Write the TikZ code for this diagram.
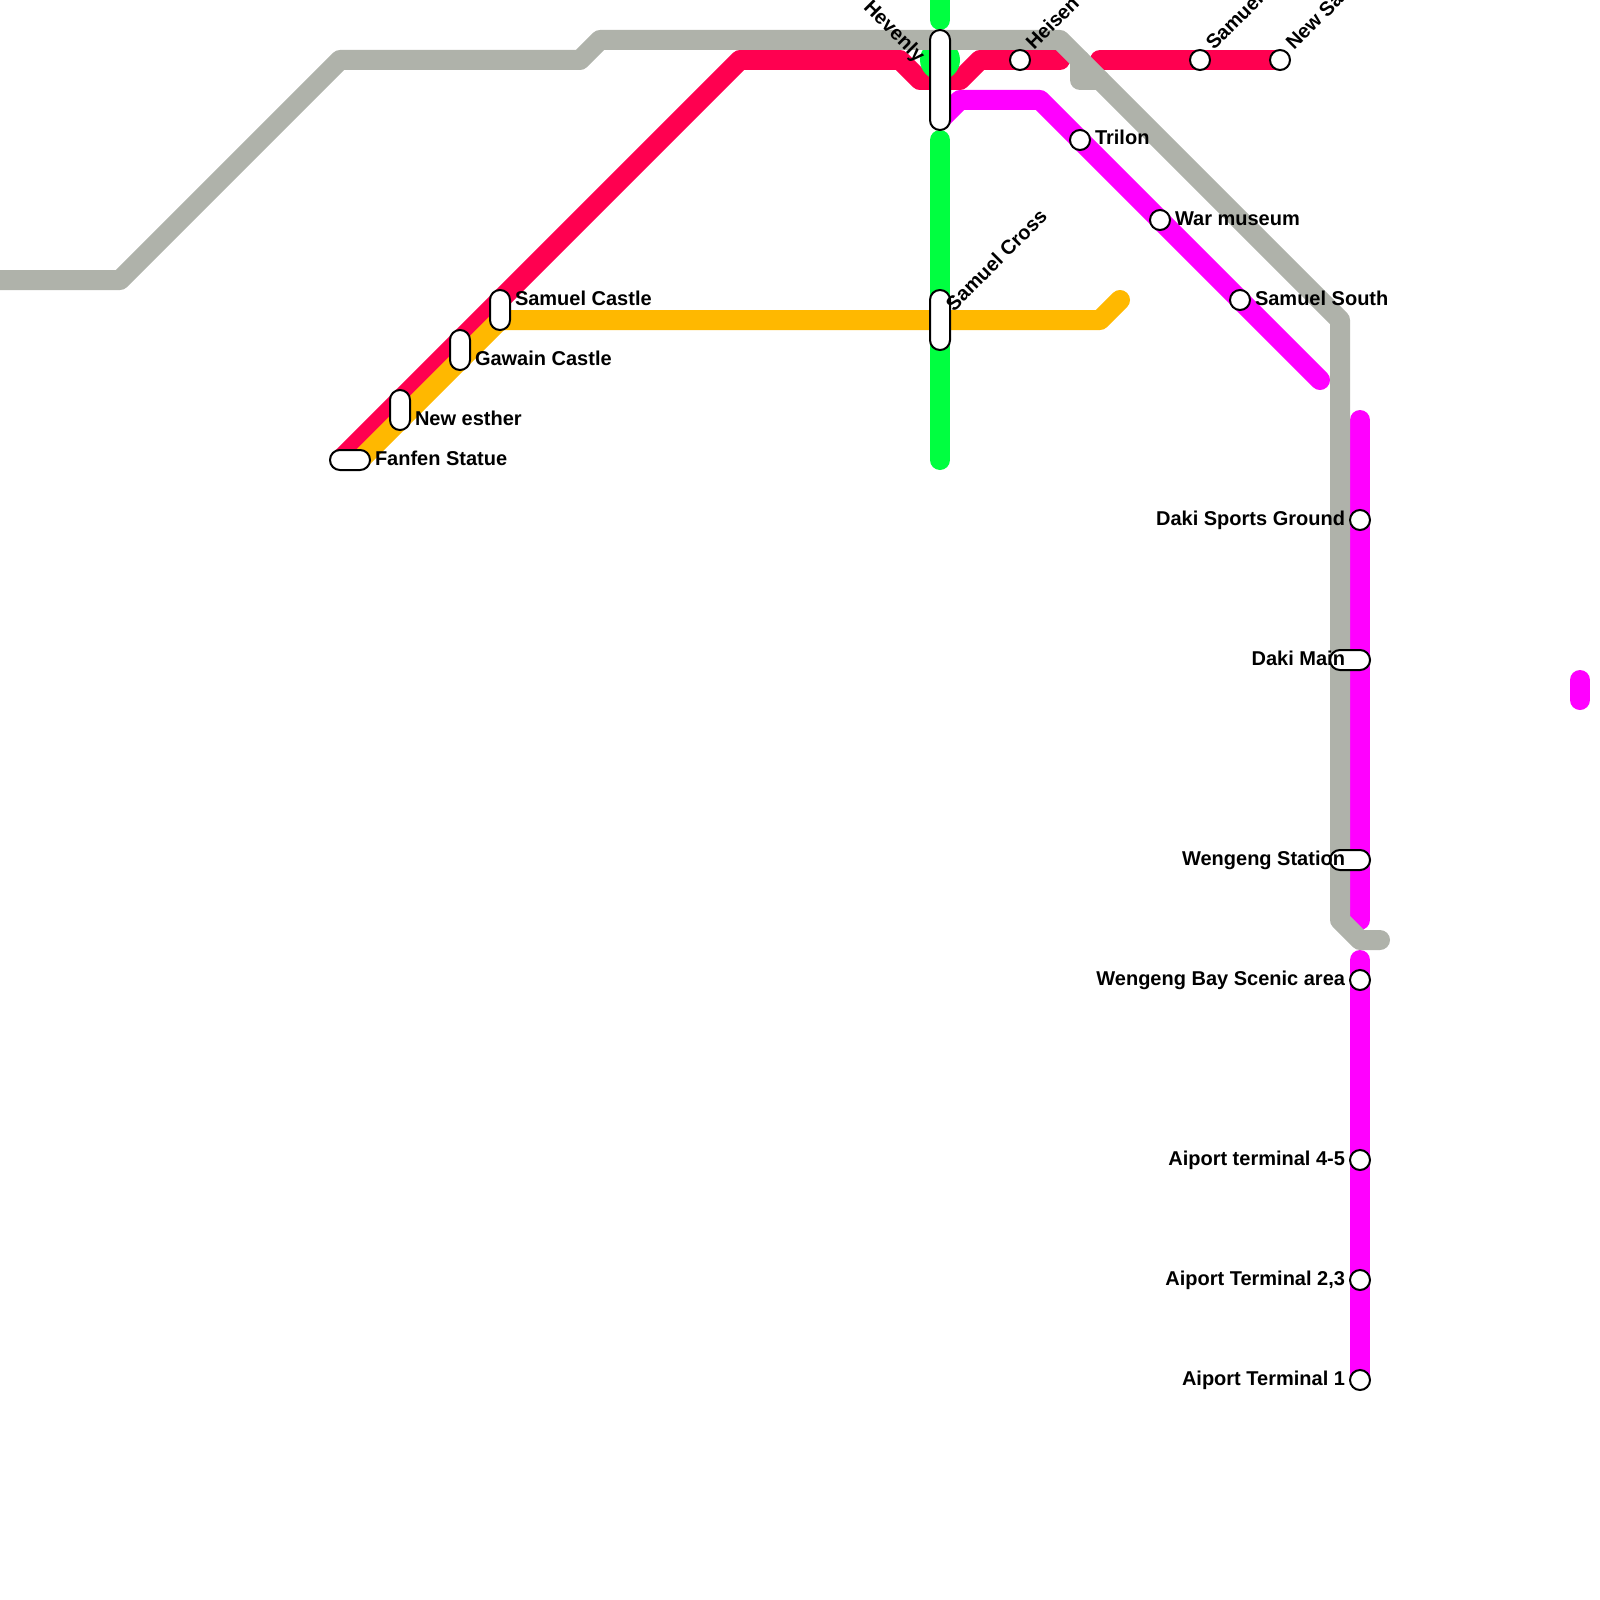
\documentclass[tikz,border=0pt]{standalone}
\usepackage{fontspec}
\setmainfont{Liberation Sans}
\usepackage{xcolor}
\usepackage{tikz}
\usetikzlibrary{positioning,backgrounds}

\definecolor{linegrey}{HTML}{AFB2AA}
\definecolor{linered}{HTML}{FF0050}
\definecolor{lineorange}{HTML}{FFB800}
\definecolor{linegreen}{HTML}{00FF40}
\definecolor{linemagenta}{HTML}{FF00FF}

\begin{document}
\begin{tikzpicture}[
    x=1pt, y=-1pt,
    metro/.style={line width=20pt, line cap=round, line join=round},
    stop/.style={circle, draw=black, fill=white, line width=2pt, minimum size=20pt, inner sep=0pt, outer sep=0pt},
    pill/.style={rectangle, draw=black, fill=white, line width=2pt, rounded corners=9.9pt, inner sep=0pt, outer sep=0pt},
    pillv/.style={pill, minimum width=20pt, minimum height=#1},
    pillh/.style={pill, minimum width=40pt, minimum height=20pt},
    lbl/.style={font=\fontsize{20}{24}\selectfont\bfseries, text=black, inner sep=0pt, outer sep=0pt},
    lblflat/.style={lbl, yshift=-5pt}
]

\useasboundingbox (0,0) rectangle (1600,1600);

\node [pillh] (fanfen) at (350,460) {};
\node [pillv=40pt] (esther) at (400,410) {};
\node [pillv=40pt] (gawain) at (460,350) {};
\node [pillv=40pt] (castle) at (500,310) {};
\node [pillv=100pt] (hevenly) at (940,80) {};
\node [pillv=60pt] (cross) at (940,320) {};
\node [stop] (heisen) at (1020,60) {};
\node [stop] (samuel) at (1200,60) {};
\node [stop] (newsa) at (1280,60) {};
\node [stop] (trilon) at (1080,140) {};
\node [stop] (museum) at (1160,220) {};
\node [stop] (south) at (1240,300) {};
\node [stop] (sports) at (1360,520) {};
\node [pillh] (dakimain) at (1350,660) {};
\node [pillh] (wengeng) at (1350,860) {};
\node [stop] (bay) at (1360,980) {};
\node [stop] (air45) at (1360,1160) {};
\node [stop] (air23) at (1360,1280) {};
\node [stop] (air1) at (1360,1380) {};

\node [lblflat, base right=25pt of fanfen.center] (fanfenlbl) {Fanfen Statue};
\node [lblflat, base right=15pt of esther.center, yshift=-10pt] (estherlbl) {New esther};
\node [lblflat, base right=15pt of gawain.center, yshift=-10pt] (gawainlbl) {Gawain Castle};
\node [lblflat, base right=15pt of castle.center, yshift=10pt] (castlelbl) {Samuel Castle};
\node [lblflat, base right=15pt of trilon.center] (trilonlbl) {Trilon};
\node [lblflat, base right=15pt of museum.center] (museumlbl) {War museum};
\node [lblflat, base right=15pt of south.center] (southlbl) {Samuel South};
\node [lblflat, base left=15pt of sports.center] (sportslbl) {Daki Sports Ground};
\node [lblflat, base left=5pt of dakimain.center] (dakimainlbl) {Daki Main};
\node [lblflat, base left=5pt of wengeng.center] (wengenglbl) {Wengeng Station};
\node [lblflat, base left=15pt of bay.center] (baylbl) {Wengeng Bay Scenic area};
\node [lblflat, base left=15pt of air45.center] (air45lbl) {Aiport terminal 4-5};
\node [lblflat, base left=15pt of air23.center] (air23lbl) {Aiport Terminal 2,3};
\node [lblflat, base left=15pt of air1.center] (air1lbl) {Aiport Terminal 1};
\node [lbl, rotate=45, anchor=base west] (crosslbl) at ([shift={(14,-8)}]cross.center) {Samuel Cross};
\node [lbl, rotate=-45, anchor=base east] (hevenlylbl) at ([shift={(-23,-17)}]hevenly.center) {Hevenly};
\node [lbl, rotate=45, anchor=base west] (heisenlbl) at ([shift={(14,-9)}]heisen.center) {Heisen};
\node [lbl, rotate=45, anchor=base west] (samuellbl) at ([shift={(14,-9)}]samuel.center) {Samuel};
\node [lbl, rotate=45, anchor=base west] (newsalbl) at ([shift={(14,-9)}]newsa.center) {New Sa};

\begin{scope}[on background layer]
\draw [metro, linemagenta] (940,120) -- (960,100) -- (1040,100) -- (trilon.center) -- (museum.center) -- (south.center) -- (1320,380);
\draw [metro, linemagenta] (1360,420) -- (sports.center) -- (1360,920);
\draw [metro, linemagenta] (1360,960) -- (bay.center) -- (air45.center) -- (air23.center) -- (air1.center);
\draw [metro, linemagenta] (1580,680) -- (1580,700);
\draw [metro, linered] (340,460) -- (740,60) -- (900,60) -- (920,80) -- (960,80) -- (980,60) -- (heisen.center) -- (1060,60);
\draw [metro, linered] (1100,60) -- (samuel.center) -- (newsa.center);
\draw [metro, lineorange] (360,460) -- (500,320) -- (1100,320) -- (1120,300);
\draw [metro, linegreen] (940,0) -- (940,20);
\fill [linegreen] (940,60) circle (20pt);
\draw [metro, linegreen] (940,140) -- (940,460);
\draw [metro, linegrey] (0,280) -- (120,280) -- (340,60) -- (580,60) -- (600,40) -- (1060,40) -- (1340,320) -- (1340,920) -- (1360,940) -- (1380,940);
\draw [metro, linegrey] (1080,60) -- (1080,80) -- (1100,80);
\end{scope}

\end{tikzpicture}
\end{document}
